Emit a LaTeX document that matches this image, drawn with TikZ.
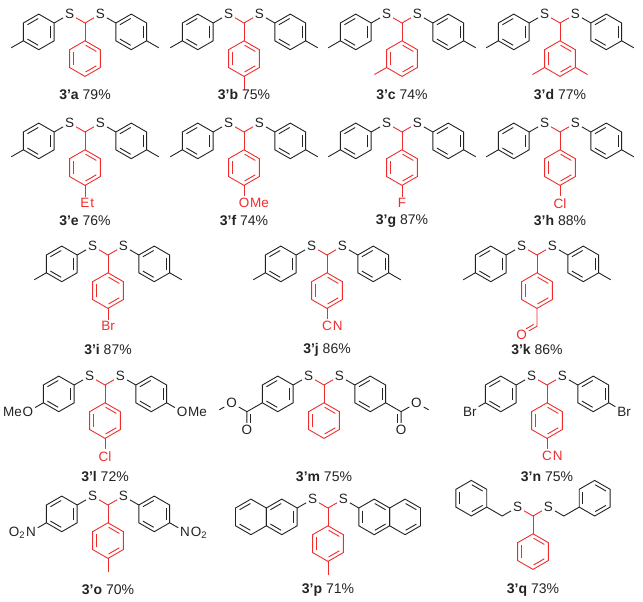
\documentclass[tikz,border=0pt]{standalone}
\usepackage{fontspec}
\setmainfont{Liberation Sans}
\usetikzlibrary{calc}
\definecolor{rd}{RGB}{240,45,45}
\definecolor{bk}{RGB}{35,35,35}
\def\L{17.8}
\def\Me{14}
\tikzset{atom/.style={font=\fontsize{13.5}{13.5}\selectfont,inner sep=1.5pt},
 molcap/.style={font=\fontsize{14}{14}\selectfont,inner sep=0pt,text=bk}}
\newcommand\ring[5]{%
 \foreach \k in {0,...,5}{\coordinate (#3v\k) at ($(#1)+(#2+60*\k:\L)$);}
 \draw[#5] (#3v0)--(#3v1)--(#3v2)--(#3v3)--(#3v4)--(#3v5)--cycle;
 \foreach \k in {#4}{\draw[#5] ($(#1)+(#2+60*\k+30-27.6:13.4)$)--($(#1)+(#2+60*\k+30+27.6:13.4)$);}}
\newcommand\benz[4]{\coordinate (#3c) at ($(#1)+(#2:\L)$);\ring{#3c}{#2+180}{#3}{1,3,5}{#4}}
\newcommand\core[3]{%
 \coordinate (#1) at (#2,-#3);
 \node[atom,text=bk] (#1SL) at ($(#1)+(150:\L)$) {S};
 \node[atom,text=bk] (#1SR) at ($(#1)+(30:\L)$) {S};
 \coordinate (#1Bi) at ($(#1)+(270:\L)$);
 \draw[rd] (#1SL)--(#1)--(#1SR); \draw[rd] (#1)--(#1Bi);
 \coordinate (#1IL) at ($(#1SL)+(210:\L)$);
 \coordinate (#1IR) at ($(#1SR)+(330:\L)$);}
\newcommand\arsides[1]{%
 \draw[bk] (#1SL)--(#1IL); \benz{#1IL}{210}{#1L}{bk}
 \draw[bk] (#1SR)--(#1IR); \benz{#1IR}{330}{#1R}{bk}}
\newcommand\tolsides[1]{\arsides{#1}
 \draw[bk] (#1Lv3)--++(210:\Me); \draw[bk] (#1Rv3)--++(330:\Me);}
\newcommand\bottom[1]{\benz{#1Bi}{270}{#1B}{rd}}
\newcommand\labR[5]{\node[atom,text=#5] (#1) at (#2) {#3};
 \node[atom,text=#5,anchor=base west,inner sep=0pt] at ([xshift=-1.5pt]#1.base east) {#4};}
\newcommand\labL[5]{\node[atom,text=#5] (#1) at (#2) {#3};
 \node[atom,text=#5,anchor=base east,inner sep=0pt] at ([xshift=1.5pt]#1.base west) {#4};}
\newcommand\botlab[3]{\labR{#1X}{$(#1Bv3)+(270:\L)$}{#2}{#3}{rd}\draw[rd] (#1Bv3)--(#1X);}
\begin{document}
\begin{tikzpicture}[x=1pt,y=1pt,line width=0.9pt]
\useasboundingbox (0,0) rectangle (643,-602);
% row 1
\core{a}{85}{23}\tolsides{a}\bottom{a}
\node[molcap] at (85,-95) {\textbf{3'a} 79\%};
\core{b}{244}{23}\tolsides{b}\bottom{b}\draw[rd] (bBv3)--++(270:\Me);
\node[molcap] at (244,-95) {\textbf{3'b} 75\%};
\core{c}{402}{23}\tolsides{c}\bottom{c}\draw[rd] (cBv2)--++(210:\Me);
\node[molcap] at (402,-95) {\textbf{3'c} 74\%};
\core{d}{560}{23}\tolsides{d}\bottom{d}\draw[rd] (dBv2)--++(210:\Me);\draw[rd] (dBv4)--++(330:\Me);
\node[molcap] at (560,-95) {\textbf{3'd} 77\%};
% row 2
\core{e}{85}{132}\tolsides{e}\bottom{e}\botlab{e}{E}{t}
\node[molcap] at (85,-221) {\textbf{3'e} 76\%};
\core{f}{244}{132}\tolsides{f}\bottom{f}\botlab{f}{O}{Me}
\node[molcap] at (244,-221) {\textbf{3'f} 74\%};
\core{g}{402}{132}\tolsides{g}\bottom{g}\botlab{g}{F}{}
\node[molcap] at (402,-221) {\textbf{3'g} 87\%};
\core{h}{560}{132}\tolsides{h}\bottom{h}\botlab{h}{Cl}{}
\node[molcap] at (560,-221) {\textbf{3'h} 88\%};
% row 3
\core{i}{108}{255}\tolsides{i}\bottom{i}\botlab{i}{Br}{}
\node[molcap] at (108,-350) {\textbf{3'i} 87\%};
\core{j}{327}{255}\tolsides{j}\bottom{j}\botlab{j}{C}{N}
\node[molcap] at (327,-350) {\textbf{3'j} 86\%};
\core{k}{537}{255}\tolsides{k}\bottom{k}
\coordinate (kC) at ($(kBv3)+(270:\L)$);
\node[atom,text=rd] (kO) at ($(kC)+(210:\L)$) {O};
\draw[rd] (kBv3)--(kC)--(kO);
\draw[rd] ($(kC)+(120:3.2)+(210:2)$)--($(kC)+(120:3.2)+(210:\L-7)$);
\node[molcap] at (537,-350) {\textbf{3'k} 86\%};
% row 4
\core{l}{105}{385}\arsides{l}\bottom{l}\botlab{l}{Cl}{}
\labL{lXL}{$(lLv3)+(210:\L)$}{O}{Me}{bk}\draw[bk] (lLv3)--(lXL);
\labR{lXR}{$(lRv3)+(330:\L)$}{O}{Me}{bk}\draw[bk] (lRv3)--(lXR);
\node[molcap] at (105,-477) {\textbf{3'l} 72\%};
\core{m}{324}{385}\arsides{m}\bottom{m}
\coordinate (mCL) at ($(mLv3)+(210:\L)$);
\node[atom,text=bk] (mOL) at ($(mCL)+(270:\L)$) {O};
\node[atom,text=bk] (mEL) at ($(mCL)+(150:\L)$) {O};
\draw[bk] (mLv3)--(mCL)--(mOL); \draw[bk] (mCL)--(mEL)--++(210:\Me);
\draw[bk] ($(mCL)+(0:3.2)+(270:2)$)--($(mCL)+(0:3.2)+(270:\L-7)$);
\coordinate (mCR) at ($(mRv3)+(330:\L)$);
\node[atom,text=bk] (mOR) at ($(mCR)+(270:\L)$) {O};
\node[atom,text=bk] (mER) at ($(mCR)+(30:\L)$) {O};
\draw[bk] (mRv3)--(mCR)--(mOR); \draw[bk] (mCR)--(mER)--++(330:\Me);
\draw[bk] ($(mCR)+(180:3.2)+(270:2)$)--($(mCR)+(180:3.2)+(270:\L-7)$);
\node[molcap] at (324,-477) {\textbf{3'm} 75\%};
\core{n}{547}{385}\arsides{n}\bottom{n}\botlab{n}{C}{N}
\node[atom,text=bk] (nXL) at ($(nLv3)+(210:\L)$) {Br};\draw[bk] (nLv3)--(nXL);
\node[atom,text=bk] (nXR) at ($(nRv3)+(330:\L)$) {Br};\draw[bk] (nRv3)--(nXR);
\node[molcap] at (547,-477) {\textbf{3'n} 75\%};
% row 5
\core{o}{108}{505}\arsides{o}\bottom{o}\draw[rd] (oBv3)--++(270:\Me);
\labL{oXL}{$(oLv3)+(210:\L)$}{N}{O\textsubscript{2}}{bk}\draw[bk] (oLv3)--(oXL);
\labR{oXR}{$(oRv3)+(330:\L)$}{N}{O\textsubscript{2}}{bk}\draw[bk] (oRv3)--(oXR);
\node[molcap] at (108,-590) {\textbf{3'o} 70\%};
\core{p}{328}{508}\bottom{p}\draw[rd] (pBv3)--++(270:\Me);
\draw[bk] (pSL)--(pIL); \draw[bk] (pSR)--(pIR);
\coordinate (pN1) at ($(pIL)+(210:\L)$); \ring{pN1}{30}{pNa}{1,3,5}{bk}
\coordinate (pN2) at ($(pN1)+(180:30.83)$); \ring{pN2}{30}{pNb}{1,3}{bk}
\coordinate (pM1) at ($(pIR)+(330:\L)$); \ring{pM1}{150}{pMa}{0,2,4}{bk}
\coordinate (pM2) at ($(pM1)+(0:30.83)$); \ring{pM2}{150}{pMb}{2,4}{bk}
\node[molcap] at (328,-590) {\textbf{3'p} 71\%};
\core{q}{533}{516}\bottom{q}
\coordinate (qIL2) at ($(qIL)+(150:\L)$); \draw[bk] (qSL)--(qIL)--(qIL2); \benz{qIL2}{150}{qL}{bk}
\coordinate (qIR2) at ($(qIR)+(30:\L)$); \draw[bk] (qSR)--(qIR)--(qIR2); \benz{qIR2}{30}{qR}{bk}
\node[molcap] at (533,-590) {\textbf{3'q} 73\%};
\end{tikzpicture}
\end{document}
